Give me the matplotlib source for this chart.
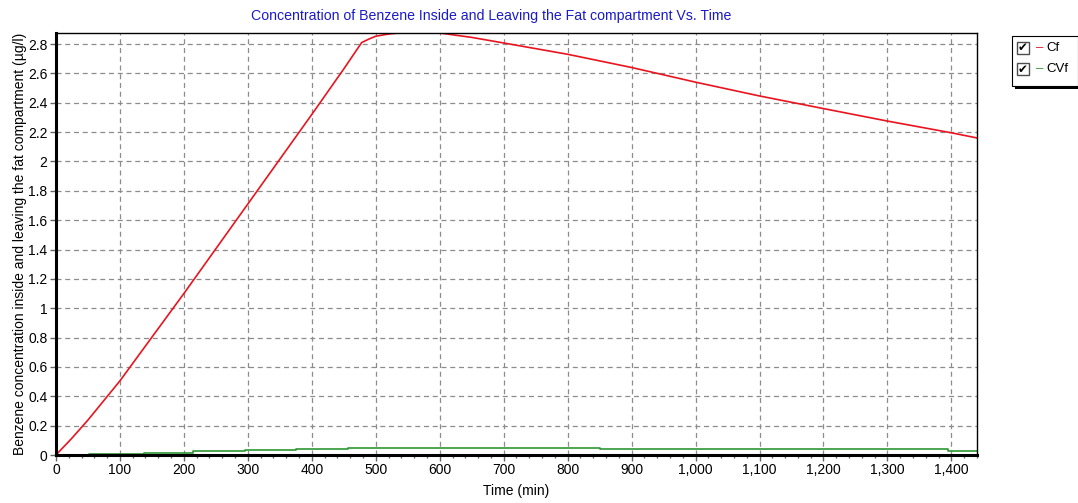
import matplotlib
matplotlib.use("Agg")
import matplotlib.pyplot as plt
from matplotlib.patches import Rectangle
from matplotlib.ticker import MultipleLocator, FuncFormatter

# fat compartment concentration (ug/l) vs time (min)
t_cf = [0, 25, 50, 100, 200, 300, 400, 450, 478, 490, 500, 520, 536, 600,
        650, 700, 800, 900, 1000, 1100, 1200, 1300, 1400, 1440]
cf = [0, 0.115, 0.238, 0.505, 1.10, 1.71, 2.32, 2.63, 2.81, 2.835, 2.853,
      2.868, 2.875, 2.875, 2.845, 2.807, 2.73, 2.64, 2.54, 2.446, 2.36,
      2.275, 2.195, 2.16]

# venous concentration leaving fat (step output)
t_cvf = [0, 52, 137, 215, 296, 375, 456, 850, 1395, 1440]
cvf = [0, 0.007, 0.016, 0.024, 0.032, 0.041, 0.05, 0.043, 0.03, 0.03]

series_names = ["Cf", "CVf"]
series_colors = ["#e8141e", "#2e9632"]

plt.rcParams["font.family"] = ["Liberation Sans", "DejaVu Sans"]
plt.rcParams["font.size"] = 10

fig = plt.figure(figsize=(10.78, 5.03), dpi=100)
ax = fig.add_axes([0.0519, 0.0954, 0.8544, 0.839])

ax.plot(t_cf, cf, color=series_colors[0], lw=1.2)
ax.step(t_cvf, cvf, where="post", color=series_colors[1], lw=1.2)

ax.set_xlim(0, 1440)
ax.set_ylim(0, 2.875)
ax.xaxis.set_major_locator(MultipleLocator(100))
ax.xaxis.set_minor_locator(MultipleLocator(20))
ax.yaxis.set_major_locator(MultipleLocator(0.2))
ax.xaxis.set_major_formatter(FuncFormatter(lambda v, p: f"{int(round(v)):,}"))
ax.yaxis.set_major_formatter(FuncFormatter(lambda v, p: f"{v:g}"))
ax.tick_params(axis="both", which="major", length=4, width=1, color="0.4", pad=2)
ax.tick_params(axis="x", which="minor", length=2, width=1, color="0.4")

ax.grid(True, which="major", ls=(0, (4, 3)), color="0.55", lw=0.9)
for side in ("left", "bottom"):
    ax.spines[side].set_linewidth(2.2)
for side in ("top", "right"):
    ax.spines[side].set_linewidth(1.0)

ax.set_xlabel("Time (min)", labelpad=5)
ax.set_ylabel("Benzene concentration inside and leaving the fat compartment (\u00b5g/l)",
              labelpad=1)

fig.text(0.4555, 0.969, "Concentration of Benzene Inside and Leaving the Fat compartment Vs. Time",
         ha="center", va="center", color="#1a1acc", fontsize=10.2)

# checkbox legend on the right
W, H = fig.get_size_inches() * fig.dpi
def px(x, y):
    return x / W, 1 - y / H

lx0, ly0, lw_, lh_ = 1012, 36, 66, 50
x, y = px(lx0 + 3, ly0 + lh_ + 3)
fig.patches.append(Rectangle((x, y), lw_ / W, lh_ / H, transform=fig.transFigure,
                             facecolor="black", edgecolor="none", zorder=1))
x, y = px(lx0, ly0 + lh_)
fig.patches.append(Rectangle((x, y), lw_ / W, lh_ / H, transform=fig.transFigure,
                             facecolor="white", edgecolor="black", lw=0.8, zorder=2))
for i, (name, col) in enumerate(zip(series_names, series_colors)):
    cy = ly0 + 12 + i * 21
    bx, by = px(lx0 + 5, cy + 6)
    fig.patches.append(Rectangle((bx, by), 12 / W, 12 / H, transform=fig.transFigure,
                                 facecolor="white", edgecolor="0.3", lw=1.0, zorder=3))
    cx, cyy = px(lx0 + 11, cy)
    fig.text(cx, cyy, "\u2714", ha="center", va="center", fontsize=8.5,
             family=["DejaVu Sans"], zorder=4)
    mx, my = px(lx0 + 24, cy)
    fig.text(mx, my, "\u2013", ha="left", va="center", color=col, fontsize=9.5, zorder=4)
    nx, ny = px(lx0 + 34, cy)
    fig.text(nx, ny, name, ha="left", va="center", fontsize=9.5, zorder=4)

fig.savefig("out.png", dpi=100)
